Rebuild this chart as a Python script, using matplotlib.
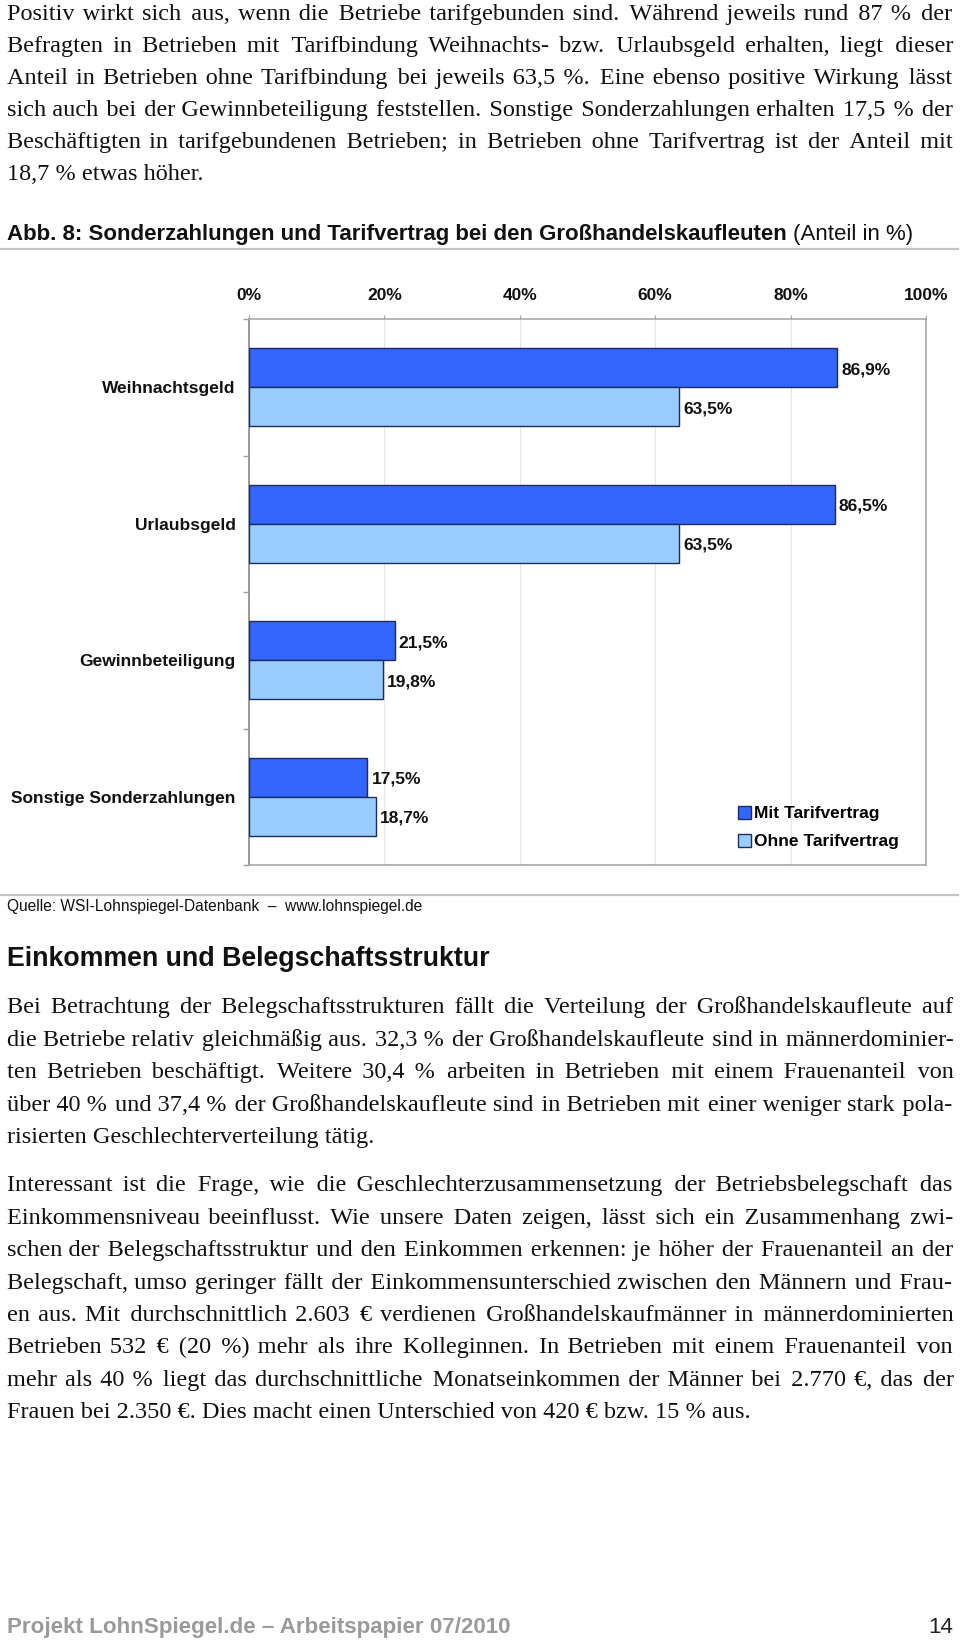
import matplotlib
matplotlib.use("Agg")
import matplotlib.pyplot as plt
import numpy as np
from matplotlib.patches import Rectangle
from matplotlib.lines import Line2D

# ---------------- data ----------------
categories = ["Weihnachtsgeld", "Urlaubsgeld", "Gewinnbeteiligung", "Sonstige Sonderzahlungen"]
mit_tarif = [86.9, 86.5, 21.5, 17.5]
ohne_tarif = [63.5, 63.5, 19.8, 18.7]
series_names = ["Mit Tarifvertrag", "Ohne Tarifvertrag"]
x_ticks = [0, 20, 40, 60, 80, 100]
x_tick_labels = ["0%", "20%", "40%", "60%", "80%", "100%"]

title_bold = "Abb. 8: Sonderzahlungen und Tarifvertrag bei den Großhandelskaufleuten"
title_normal = "(Anteil in %)"
source_text = "Quelle: WSI-Lohnspiegel-Datenbank  –  www.lohnspiegel.de"
heading = "Einkommen und Belegschaftsstruktur"
footer_left = "Projekt LohnSpiegel.de – Arbeitspapier 07/2010"
footer_right = "14"

para1 = [
    "Positiv wirkt sich aus, wenn die Betriebe tarifgebunden sind. Während jeweils rund 87 % der",
    "Befragten in Betrieben mit Tarifbindung Weihnachts- bzw. Urlaubsgeld erhalten, liegt dieser",
    "Anteil in Betrieben ohne Tarifbindung bei jeweils 63,5 %. Eine ebenso positive Wirkung lässt",
    "sich auch bei der Gewinnbeteiligung feststellen. Sonstige Sonderzahlungen erhalten 17,5 % der",
    "Beschäftigten in tarifgebundenen Betrieben; in Betrieben ohne Tarifvertrag ist der Anteil mit",
    "18,7 % etwas höher.",
]
para2 = [
    "Bei Betrachtung der Belegschaftsstrukturen fällt die Verteilung der Großhandelskaufleute auf",
    "die Betriebe relativ gleichmäßig aus. 32,3 % der Großhandelskaufleute sind in männerdominier-",
    "ten Betrieben beschäftigt. Weitere 30,4 % arbeiten in Betrieben mit einem Frauenanteil von",
    "über 40 % und 37,4 % der Großhandelskaufleute sind in Betrieben mit einer weniger stark pola-",
    "risierten Geschlechterverteilung tätig.",
]
para3 = [
    "Interessant ist die Frage, wie die Geschlechterzusammensetzung der Betriebsbelegschaft das",
    "Einkommensniveau beeinflusst. Wie unsere Daten zeigen, lässt sich ein Zusammenhang zwi-",
    "schen der Belegschaftsstruktur und den Einkommen erkennen: je höher der Frauenanteil an der",
    "Belegschaft, umso geringer fällt der Einkommensunterschied zwischen den Männern und Frau-",
    "en  aus. Mit durchschnittlich 2.603 € verdienen Großhandelskaufmänner in männerdominierten",
    "Betrieben 532 € (20 %) mehr als ihre Kolleginnen. In Betrieben mit einem Frauenanteil von",
    "mehr als 40 % liegt das durchschnittliche Monatseinkommen der Männer bei 2.770 €, das der",
    "Frauen bei 2.350 €. Dies macht einen Unterschied von 420 € bzw. 15 % aus.",
]

# ---------------- figure ----------------
W, H, DPI = 960, 1641, 100
fig = plt.figure(figsize=(W / DPI, H / DPI), dpi=DPI)
fig.patch.set_facecolor("white")
renderer = fig.canvas.get_renderer()

SANS = ["Liberation Sans", "DejaVu Sans"]
SERIF = ["Liberation Serif", "DejaVu Serif"]
HAIR = "\u200a"
X0, X1 = 7, 953


def fx(x):
    return x / W


def fy(y):
    return 1 - y / H


def put(x, y, s, size, **kw):
    kw.setdefault("va", "baseline")
    return fig.text(fx(x), fy(y), s, fontsize=size, **kw)


def width(t):
    return t.get_window_extent(renderer).width


def fit(t, target):
    t.set_fontsize(t.get_fontsize() * target / width(t))


def hrule(y, x0=0, x1=958, color="#C4C4C4", lw=1.6):
    fig.add_artist(Line2D([fx(x0), fx(x1)], [fy(y), fy(y)], transform=fig.transFigure,
                          color=color, linewidth=lw))


def build(words, counts):
    s = words[0]
    for w, k in zip(words[1:], counts):
        s += " " + HAIR * k + w
    return s


def justify(lines, y0, dy, size):
    target = X1 - X0
    probe = put(0, -100, "xx", size, family=SERIF)
    w_xx = width(probe)
    probe.set_text("x" + HAIR * 10 + "x")
    hw = max((width(probe) - w_xx) / 10.0, 0.3)
    probe.remove()
    for i, line in enumerate(lines):
        y = y0 + i * dy
        words = line.split()
        t = put(X0, y, " ".join(words), size, family=SERIF, color="#111111")
        if i == len(lines) - 1 or len(words) < 2:
            continue
        gaps = len(words) - 1
        K = 0
        for _ in range(3):
            extra = target - width(t)
            K = max(K + int(round(extra / hw)), 0)
            counts = [(j + 1) * K // gaps - j * K // gaps for j in range(gaps)]
            t.set_text(build(words, counts))


# body font size: largest size where every justified line fits with normal spaces
body_size = 18.0
probe_lines = [l for p in (para1, para2, para3) for l in p[:-1]]
tp = put(0, -100, "", body_size, family=SERIF)
while body_size > 12:
    tp.set_fontsize(body_size)
    widest = 0
    for line in probe_lines:
        tp.set_text(" ".join(line.split()))
        widest = max(widest, width(tp))
    if widest <= (X1 - X0) - 4:
        break
    body_size -= 0.25
tp.remove()

# ---------------- body text ----------------
justify(para1, 20.0, 32.0, body_size)
justify(para2, 1013.5, 32.4, body_size)
justify(para3, 1191.5, 32.4, body_size)

# ---------------- chart title ----------------
tb = put(7, 240, title_bold, 14, family=SANS, fontweight="bold", color="#111111")
fit(tb, 786)
tn = put(7 + width(tb) + 6, 240, title_normal, tb.get_fontsize(), family=SANS, color="#111111")
hrule(249)

# ---------------- chart ----------------
ax = fig.add_axes([fx(249), fy(865), fx(926) - fx(249), fy(319) - fy(865)])
y = np.arange(len(categories))
bh = 0.2857
c_mit, c_ohne, c_edge = "#3366FF", "#99CCFF", "#1C2C5E"
b1 = ax.barh(y - bh / 2, mit_tarif, height=bh, color=c_mit, edgecolor=c_edge, linewidth=1.0, zorder=3)
b2 = ax.barh(y + bh / 2, ohne_tarif, height=bh, color=c_ohne, edgecolor=c_edge, linewidth=1.0, zorder=3)

for rects, vals in ((b1, mit_tarif), (b2, ohne_tarif)):
    for r, v in zip(rects, vals):
        ax.annotate(f"{v:.1f}%".replace(".", ","),
                    xy=(r.get_width(), r.get_y() + r.get_height() / 2),
                    xytext=(3, -1.5), textcoords="offset points",
                    ha="left", va="center", fontsize=12.5, fontweight="bold",
                    family=SANS, color="#111111")

ax.set_xlim(0, 100)
ax.set_ylim(len(categories) - 0.5, -0.5)
ax.xaxis.tick_top()
ax.set_xticks(x_ticks)
ax.set_xticklabels(x_tick_labels, fontsize=12.5, fontweight="bold", family=SANS, color="#111111")
ax.tick_params(axis="x", which="major", length=3, color="#A0A0A0", pad=8.5)
ax.set_yticks(y)
ax.set_yticklabels(categories, fontsize=12.5, fontweight="bold", family=SANS, color="#111111")
ax.tick_params(axis="y", which="major", length=0, pad=9.5)
ax.set_yticks(np.arange(len(categories) + 1) - 0.5, minor=True)
ax.tick_params(axis="y", which="minor", length=4, color="#A0A0A0", width=1)
ax.xaxis.grid(True, color="#E6E6E6", linewidth=0.8, zorder=0)
ax.set_axisbelow(True)
for side, col in (("left", "#8A8A8A"), ("top", "#A8A8A8"), ("right", "#A8A8A8"), ("bottom", "#A8A8A8")):
    ax.spines[side].set_color(col)
    ax.spines[side].set_linewidth(1.2)

handles = [Rectangle((0, 0), 1, 1, facecolor=c_mit, edgecolor=c_edge, linewidth=1.0),
           Rectangle((0, 0), 1, 1, facecolor=c_ohne, edgecolor=c_edge, linewidth=1.0)]
ax.legend(handles, series_names, loc="upper left", bbox_to_anchor=(fx(738), fy(806)),
          bbox_transform=fig.transFigure, frameon=False,
          prop={"family": SANS, "weight": "bold", "size": 12.5},
          handlelength=0.75, handleheight=0.75, handletextpad=0.2,
          labelspacing=0.72, borderpad=0, borderaxespad=0)

# ---------------- source ----------------
hrule(895)
qs = put(7, 910.5, source_text, 10.5, family=SANS, color="#111111")
fit(qs, 418)

# ---------------- heading ----------------
hd = put(7, 966, heading, 17, family=SANS, fontweight="bold", color="#111111")
fit(hd, 484)

# ---------------- footer ----------------
ft = put(7, 1633, footer_left, 15, family=SANS, fontweight="bold", color="#9A9A9A")
fit(ft, 508)
put(953, 1633, footer_right, ft.get_fontsize(), family=SANS, color="#222222", ha="right")

fig.savefig("out.png", dpi=DPI, facecolor="white")
